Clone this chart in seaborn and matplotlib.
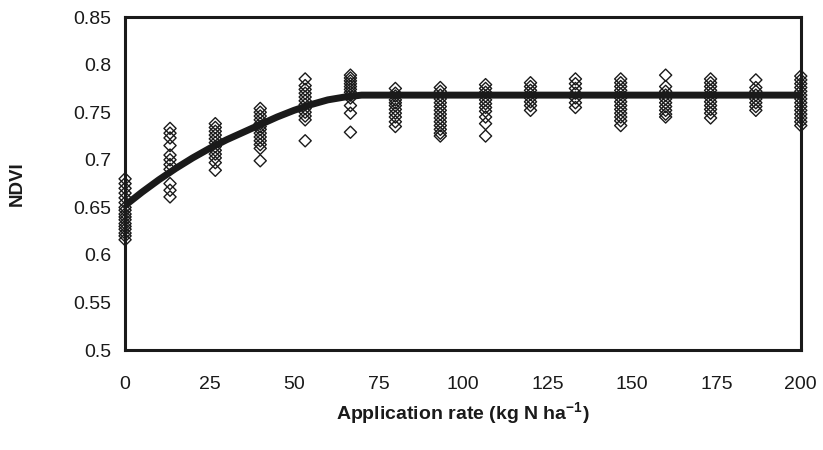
import matplotlib
matplotlib.use("Agg")
import matplotlib.pyplot as plt
import pandas as pd
import seaborn as sns

# application rates (kg N/ha) of the observed plots
rates = [0, 13.3, 26.7, 40, 53.3, 66.7, 80, 93.3, 106.7, 120, 133.3, 146.7, 160, 173.3, 186.7, 200]

# NDVI readings per rate
ndvi_0 = [0.680, 0.675, 0.670, 0.665, 0.660, 0.655, 0.650, 0.647, 0.643, 0.640, 0.637, 0.633, 0.630, 0.627, 0.623, 0.620, 0.616]
ndvi_13 = [0.733, 0.728, 0.723, 0.715, 0.705, 0.700, 0.695, 0.690, 0.675, 0.668, 0.661]
ndvi_27 = [0.738, 0.734, 0.730, 0.726, 0.722, 0.718, 0.714, 0.710, 0.706, 0.702, 0.697, 0.689]
ndvi_40 = [0.754, 0.750, 0.746, 0.742, 0.738, 0.735, 0.732, 0.728, 0.724, 0.720, 0.716, 0.712, 0.699]
ndvi_53 = [0.785, 0.778, 0.774, 0.770, 0.766, 0.762, 0.758, 0.754, 0.750, 0.746, 0.742, 0.720]
ndvi_67 = [0.789, 0.786, 0.783, 0.780, 0.777, 0.774, 0.771, 0.768, 0.765, 0.757, 0.749, 0.729]
ndvi_80 = [0.775, 0.770, 0.767, 0.763, 0.760, 0.757, 0.753, 0.749, 0.745, 0.740, 0.735]
ndvi_93 = [0.776, 0.772, 0.768, 0.764, 0.760, 0.756, 0.752, 0.748, 0.744, 0.740, 0.736, 0.732, 0.728, 0.725]
ndvi_107 = [0.779, 0.775, 0.771, 0.767, 0.763, 0.759, 0.755, 0.751, 0.745, 0.738, 0.725]
ndvi_120 = [0.781, 0.777, 0.773, 0.769, 0.765, 0.761, 0.757, 0.752]
ndvi_133 = [0.785, 0.780, 0.775, 0.770, 0.765, 0.760, 0.755]
ndvi_147 = [0.785, 0.781, 0.777, 0.773, 0.769, 0.765, 0.761, 0.757, 0.753, 0.749, 0.745, 0.741, 0.736]
ndvi_160 = [0.789, 0.777, 0.772, 0.768, 0.764, 0.760, 0.756, 0.752, 0.748, 0.745]
ndvi_173 = [0.785, 0.781, 0.777, 0.773, 0.769, 0.765, 0.761, 0.757, 0.753, 0.749, 0.744]
ndvi_187 = [0.784, 0.776, 0.772, 0.768, 0.764, 0.760, 0.756, 0.752]
ndvi_200 = [0.788, 0.784, 0.780, 0.776, 0.772, 0.768, 0.764, 0.760, 0.756, 0.752, 0.748, 0.744, 0.740, 0.736]

groups = [ndvi_0, ndvi_13, ndvi_27, ndvi_40, ndvi_53, ndvi_67, ndvi_80, ndvi_93,
          ndvi_107, ndvi_120, ndvi_133, ndvi_147, ndvi_160, ndvi_173, ndvi_187, ndvi_200]

# fitted quadratic-plateau response
fit_x = [0, 5, 10, 15, 20, 25, 30, 35, 40, 45, 50, 55, 60, 65, 70, 200]
fit_y = [0.652, 0.666, 0.679, 0.691, 0.702, 0.712, 0.721, 0.729, 0.737, 0.745, 0.752, 0.758, 0.763, 0.766, 0.768, 0.768]

df = pd.DataFrame({
    "rate": [r for r, g in zip(rates, groups) for _ in g],
    "ndvi": [v for g in groups for v in g],
})
fit = pd.DataFrame({"rate": fit_x, "ndvi": fit_y})

sns.set_style("white")
plt.rcParams["font.family"] = ["Liberation Sans", "DejaVu Sans"]
plt.rcParams["mathtext.fontset"] = "custom"
plt.rcParams["mathtext.bf"] = "Liberation Sans:bold"
plt.rcParams["mathtext.rm"] = "Liberation Sans"

ink = "#1a1a1a"

fig, ax = plt.subplots(figsize=(8.23, 4.5), dpi=100)
fig.subplots_adjust(left=0.152, right=0.973, top=0.962, bottom=0.222)

sns.scatterplot(data=df, x="rate", y="ndvi", marker="D", s=38, facecolor="none",
                edgecolor=ink, linewidth=1.0, ax=ax, clip_on=False, zorder=2)
sns.lineplot(data=fit, x="rate", y="ndvi", color=ink, linewidth=5, ax=ax, zorder=3)

ax.set_xlim(0, 200)
ax.set_ylim(0.5, 0.85)
ax.set_xticks([0, 25, 50, 75, 100, 125, 150, 175, 200])
ax.set_yticks([0.5, 0.55, 0.6, 0.65, 0.7, 0.75, 0.8, 0.85])
ax.set_yticklabels(["0.5", "0.55", "0.6", "0.65", "0.7", "0.75", "0.8", "0.85"])

for sp in ax.spines.values():
    sp.set_linewidth(2.2)
    sp.set_color(ink)
ax.tick_params(axis="both", direction="out", length=4, width=2, color=ink,
               labelsize=14, labelcolor=ink)
ax.tick_params(axis="x", pad=15)
ax.tick_params(axis="y", pad=6)

ax.set_xlabel(r"Application rate (kg N ha$^{\mathbf{-1}}$)", fontsize=14,
              fontweight="bold", labelpad=5, color=ink)
ax.set_ylabel("NDVI", fontsize=13.5, fontweight="bold", labelpad=34, color=ink)

plt.savefig("out.png", dpi=100)
